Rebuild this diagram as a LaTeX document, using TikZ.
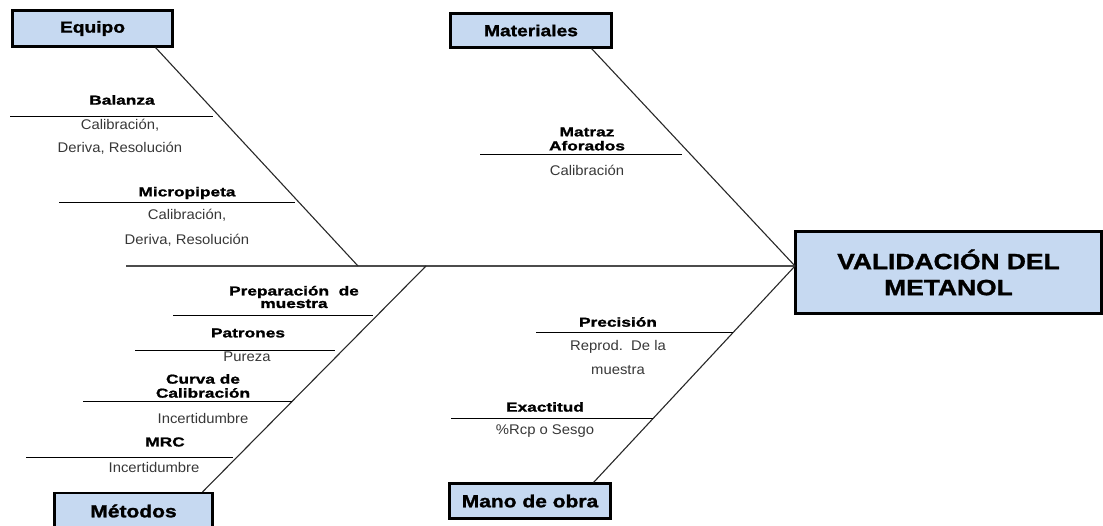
\documentclass[tikz,border=0pt]{standalone}
\usepackage{fontspec}
\setmainfont{Liberation Sans}
\newfontfamily\headfont[FakeStretch=1.33,FakeBold=1.4]{Liberation Sans Bold}
\newfontfamily\catfont[FakeStretch=1.2,FakeBold=1.4]{Liberation Sans Bold}
\newfontfamily\bodyfont[FakeStretch=1.06]{Liberation Sans}
\definecolor{boxblue}{RGB}{198,217,241}
\definecolor{bodygray}{RGB}{55,55,55}
\definecolor{bonegray}{RGB}{40,40,40}
\begin{document}
\begin{tikzpicture}[x=1pt,y=-1pt,
  catbox/.style={draw=black, line width=2.2pt, fill=boxblue, inner sep=0pt,
    font=\catfont\fontsize{16}{18}\selectfont},
  effectbox/.style={draw=black, line width=2.4pt, fill=boxblue, inner sep=0pt,
    align=center, font=\catfont\fontsize{22}{26}\selectfont},
  bone/.style={draw=bonegray, line width=1.1pt},
  spine/.style={draw=black!70, line width=1.3pt},
  rib/.style={draw=black, line width=0.9pt},
  cause/.style={inner sep=0pt, align=center, text=black,
    font=\headfont\fontsize{13}{14}\selectfont},
  detail/.style={inner sep=0pt, align=center, text=bodygray,
    font=\bodyfont\fontsize{14}{23}\selectfont}]
\useasboundingbox (0,0) rectangle (1103,526);

% effect (head of the fish)
\node[effectbox, minimum width=306pt, minimum height=82pt] (main) at (948.5,272.5)
  {VALIDACIÓN DEL\\METANOL};

% category boxes
\node[catbox, minimum width=160pt, minimum height=36pt,
  font=\catfont\fontsize{16}{18}\selectfont] (equipo) at (92.5,28.5) {Equipo};
\node[catbox, minimum width=161pt, minimum height=34pt] (materiales) at (531,30.5) {Materiales};
\node[catbox, minimum width=158pt, minimum height=36pt,
  font=\catfont\fontsize{17.5}{19}\selectfont] (metodos) at (133.5,511) {Métodos};
\node[catbox, minimum width=161pt, minimum height=35pt,
  font=\catfont\fontsize{17.5}{19}\selectfont] (manoobra) at (530,501) {Mano de obra};

% spine and main bones
\coordinate (tail) at (126,266);
\coordinate (head) at (795,266);
\coordinate (eqjoin) at (358,266);
\coordinate (mejoin) at (426,266);
\draw[spine] (tail) -- (head);
\draw[bone] ([xshift=-18pt]equipo.south east) -- (eqjoin);
\draw[bone] ([xshift=-21pt]materiales.south east) -- (head);
\draw[bone] ([xshift=-11pt]metodos.north east) -- (mejoin);
\draw[bone] ([xshift=-18pt]manoobra.north east) -- (head);

% Equipo
\node[cause] (balanza) at (122,100) {Balanza};
\coordinate (balL) at (10,116); \coordinate (balR) at (213,116);
\draw[rib] (balL) -- (balR);
\node[detail] (balanzad) at (120,136.5) {Calibración,\\Deriva, Resolución};

\node[cause] (micro) at (187,193) {Micropipeta};
\coordinate (micL) at (59,202); \coordinate (micR) at (295,202);
\draw[rib] (micL) -- (micR);
\node[detail, font=\bodyfont\fontsize{14}{25}\selectfont] (microd) at (187,227.5)
  {Calibración,\\Deriva, Resolución};

% Materiales
\node[cause] (matraz) at (587,139) {Matraz\\Aforados};
\coordinate (matL) at (480,154); \coordinate (matR) at (682,154);
\draw[rib] (matL) -- (matR);
\node[detail] (matrazd) at (587,170) {Calibración};

% Métodos
\node[cause, font=\headfont\fontsize{13}{12.5}\selectfont] (prep) at (294,297)
  {Preparación\ \ de\\muestra};
\coordinate (preL) at (173,315); \coordinate (preR) at (373,315);
\draw[rib] (preL) -- (preR);

\node[cause] (patrones) at (248,333) {Patrones};
\coordinate (patL) at (135,350); \coordinate (patR) at (335,350);
\draw[rib] (patL) -- (patR);
\node[detail] (patronesd) at (247,357) {Pureza};

\node[cause] (curva) at (203,386) {Curva de\\Calibración};
\coordinate (curL) at (83,401); \coordinate (curR) at (292,401);
\draw[rib] (curL) -- (curR);
\node[detail] (curvad) at (203,418) {Incertidumbre};

\node[cause] (mrc) at (165,442) {MRC};
\coordinate (mrcL) at (26,457); \coordinate (mrcR) at (233,457);
\draw[rib] (mrcL) -- (mrcR);
\node[detail] (mrcd) at (154,467) {Incertidumbre};

% Mano de obra
\node[cause] (precision) at (618,322) {Precisión};
\coordinate (prcL) at (536,332); \coordinate (prcR) at (733,332);
\draw[rib] (prcL) -- (prcR);
\node[detail, font=\bodyfont\fontsize{14}{24}\selectfont] (precisiond) at (618,357)
  {Reprod.\ \ De la\\muestra};

\node[cause] (exactitud) at (545,407) {Exactitud};
\coordinate (exaL) at (451,418); \coordinate (exaR) at (653,418);
\draw[rib] (exaL) -- (exaR);
\node[detail] (exactitudd) at (545,431) {\%Rcp o Sesgo};
\end{tikzpicture}
\end{document}
